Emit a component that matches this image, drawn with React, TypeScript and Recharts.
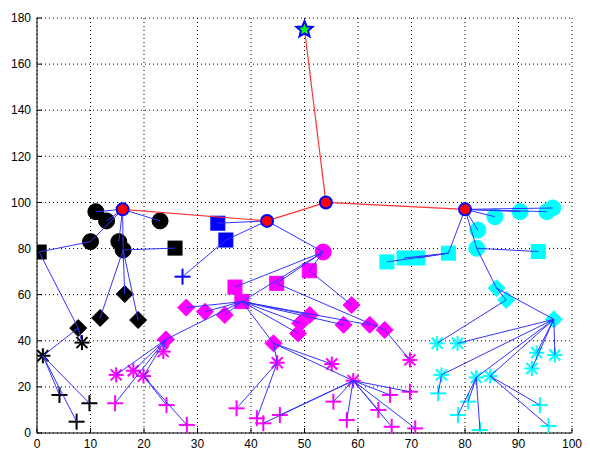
import { ScatterChart, Scatter, XAxis, YAxis, CartesianGrid } from 'recharts';

// node rows: [x, y, parentX, parentY]
type Row = number[];

const X_TICKS = [0, 10, 20, 30, 40, 50, 60, 70, 80, 90, 100];
const Y_TICKS = [0, 20, 40, 60, 80, 100, 120, 140, 160, 180];

const SINK = [[50, 175]];
const HEADS = [[16, 97], [43, 92], [54, 100], [80, 97]];
const RED_LINKS = [[16, 97, 43, 92], [43, 92, 54, 100], [54, 100, 80, 97], [54, 100, 50, 175]];

const blackCircles: Row[] = [[11, 96, 16, 97], [13, 92, 16, 97], [23, 92, 16, 97], [10, 83, 16, 97], [15.3, 83, 16, 97], [16.1, 79.4, 16, 97]];
const blackSquares: Row[] = [[0.4, 78.5, 10, 83], [25.8, 80.2, 16.1, 79.4]];
const blackDiamonds: Row[] = [[16.4, 60.3, 16.1, 79.4], [11.8, 49.9, 16.1, 79.4], [18.9, 49, 16.1, 79.4], [7.7, 45.5, 0.4, 78.5]];
const blackStars: Row[] = [[1.1, 33.5, 7.7, 45.5], [8.4, 39.2, 7.7, 45.5]];
const blackPlus: Row[] = [[4.2, 16.5, 1.1, 33.5], [9.8, 12.9, 1.1, 33.5], [7.4, 4.9, 1.1, 33.5]];

const blueSquares: Row[] = [[33.8, 91, 43, 92], [35.3, 83.7, 43, 92]];
const bluePlus: Row[] = [[27.2, 67.8, 35.3, 83.7]];

const magCircles: Row[] = [[53.5, 78.5, 43, 92]];
const magSquares: Row[] = [[37, 63.3, 53.5, 78.5], [38.3, 57, 53.5, 78.5], [44.8, 64.9, 53.5, 78.5], [50.9, 70.4, 53.5, 78.5]];
const magDiamonds: Row[] = [
  [27.9, 54.4, 38.3, 57], [31.4, 52.6, 38.3, 57], [35.1, 51.2, 38.3, 57], [51, 51.2, 38.3, 57],
  [49.2, 47.6, 38.3, 57], [48.8, 43.2, 38.3, 57], [57.3, 46.9, 38.3, 57], [62.2, 46.9, 38.3, 57],
  [44.2, 38.9, 38.3, 57], [24.1, 40.6, 38.3, 57], [58.8, 55.5, 50.9, 70.4], [65, 44.7, 44.8, 64.9],
];
const magStars: Row[] = [
  [14.8, 25.2, 24.1, 40.6], [18, 27, 24.1, 40.6], [19.9, 24.7, 24.1, 40.6], [23.6, 35.3, 24.1, 40.6],
  [44.9, 30.5, 44.2, 38.9], [55.1, 29.9, 44.2, 38.9], [59.1, 22.7, 44.2, 38.9], [69.7, 31.7, 65, 44.7],
];
const magPlus: Row[] = [
  [14.6, 12.9, 24.1, 40.6], [24.2, 12.1, 19.9, 24.7], [28, 3.5, 19.9, 24.7], [37.3, 10.7, 44.9, 30.5],
  [41.1, 6.4, 44.9, 30.5], [42.3, 4.2, 59.1, 22.7], [45.4, 7.8, 59.1, 22.7], [55.4, 13.6, 59.1, 22.7],
  [57.9, 5.6, 59.1, 22.7], [63.8, 10, 59.1, 22.7], [66, 16.5, 59.1, 22.7], [69.7, 17.9, 59.1, 22.7],
  [66.3, 2.7, 59.1, 22.7], [70.7, 2, 59.1, 22.7],
];

const cyanCircles: Row[] = [[85.6, 93.8, 80, 97], [90.3, 96, 80, 97], [95.3, 96, 80, 97], [96.4, 97.6, 80, 97], [82.4, 88, 80, 97], [82.2, 80.1, 80, 97]];
const cyanSquares: Row[] = [[93.7, 78.7, 82.2, 80.1], [76.9, 78, 80, 97], [71.2, 75.9, 76.9, 78], [68.6, 75.9, 76.9, 78], [65.4, 74.2, 76.9, 78]];
const cyanDiamonds: Row[] = [[85.9, 62.8, 82.2, 80.1], [87.7, 57.7, 85.9, 62.8], [96.6, 49.3, 85.9, 62.8]];
const cyanStars: Row[] = [
  [74.8, 38.9, 87.7, 57.7], [78.6, 38.9, 96.6, 49.3], [93.4, 34.8, 96.6, 49.3], [96.8, 33.8, 96.6, 49.3],
  [92.5, 28, 96.6, 49.3], [75.6, 25.2, 96.6, 49.3], [82.1, 24.1, 96.6, 49.3], [84.7, 24.7, 96.6, 49.3],
];
const cyanPlus: Row[] = [[75, 17.2, 75.6, 25.2], [80.6, 13.6, 82.1, 24.1], [78.7, 7.8, 82.1, 24.1], [82.8, 1.3, 82.1, 24.1], [94, 12.1, 84.7, 24.7], [95.6, 3, 84.7, 24.7]];

const GROUPS: { color: string; kind: string; rows: Row[] }[] = [
  { color: '#000000', kind: 'circle', rows: blackCircles },
  { color: '#000000', kind: 'square', rows: blackSquares },
  { color: '#000000', kind: 'diamond', rows: blackDiamonds },
  { color: '#000000', kind: 'star', rows: blackStars },
  { color: '#000000', kind: 'plus', rows: blackPlus },
  { color: '#0000ff', kind: 'square', rows: blueSquares },
  { color: '#0000ff', kind: 'plus', rows: bluePlus },
  { color: '#ff00ff', kind: 'circle', rows: magCircles },
  { color: '#ff00ff', kind: 'square', rows: magSquares },
  { color: '#ff00ff', kind: 'diamond', rows: magDiamonds },
  { color: '#ff00ff', kind: 'star', rows: magStars },
  { color: '#ff00ff', kind: 'plus', rows: magPlus },
  { color: '#00ffff', kind: 'circle', rows: cyanCircles },
  { color: '#00ffff', kind: 'square', rows: cyanSquares },
  { color: '#00ffff', kind: 'diamond', rows: cyanDiamonds },
  { color: '#00ffff', kind: 'star', rows: cyanStars },
  { color: '#00ffff', kind: 'plus', rows: cyanPlus },
];

const BLUE_LINKS = GROUPS.flatMap((g) => g.rows);

function marker(kind: string, color: string) {
  return (props: any) => {
    const { cx, cy } = props;
    if (cx == null || cy == null) return <g />;
    if (kind === 'circle') return <circle cx={cx} cy={cy} r={8} fill={color} stroke={color} />;
    if (kind === 'square') return <rect x={cx - 7} y={cy - 7} width={14} height={14} fill={color} stroke={color} />;
    if (kind === 'diamond') {
      const s = 8.5;
      return <polygon points={`${cx},${cy - s} ${cx + s},${cy} ${cx},${cy + s} ${cx - s},${cy}`} fill={color} stroke={color} />;
    }
    if (kind === 'plus') {
      const s = 8;
      return (
        <g stroke={color} strokeWidth={2}>
          <line x1={cx - s} y1={cy} x2={cx + s} y2={cy} />
          <line x1={cx} y1={cy - s} x2={cx} y2={cy + s} />
        </g>
      );
    }
    // asterisk
    const s = 7.5;
    const d = 5.5;
    return (
      <g stroke={color} strokeWidth={2}>
        <line x1={cx - s} y1={cy} x2={cx + s} y2={cy} />
        <line x1={cx} y1={cy - s} x2={cx} y2={cy + s} />
        <line x1={cx - d} y1={cy - d} x2={cx + d} y2={cy + d} />
        <line x1={cx - d} y1={cy + d} x2={cx + d} y2={cy - d} />
      </g>
    );
  };
}

const headShape = (props: any) => {
  const { cx, cy } = props;
  return <circle cx={cx} cy={cy} r={6} fill="#ff0000" stroke="#0000ff" strokeWidth={2} />;
};

const sinkShape = (props: any) => {
  const { cx, cy } = props;
  const pts: string[] = [];
  for (let i = 0; i < 10; i++) {
    const r = i % 2 === 0 ? 8.5 : 3.8;
    const a = -Math.PI / 2 + (i * Math.PI) / 5;
    pts.push(`${cx + r * Math.cos(a)},${cy + r * Math.sin(a)}`);
  }
  return <polygon points={pts.join(' ')} fill="#00ff00" stroke="#0000ff" strokeWidth={2} />;
};

const noShape = () => <g />;
const noTick = () => <g />;
const toPts = (rows: number[][]) => rows.map((r) => ({ x: r[0], y: r[1] }));

export default function App() {
  const tick = { fill: '#000', fontSize: 12, fontFamily: 'Liberation Sans, Arial, sans-serif' };
  return (
    <div style={{ position: 'absolute', left: 0, top: 0, background: '#fff' }}>
      <ScatterChart width={590} height={458} margin={{ top: 18, right: 18, bottom: 0, left: 0 }}>
        <CartesianGrid stroke="#000" strokeDasharray="1 3" />
        <XAxis type="number" dataKey="x" domain={[0, 100]} ticks={X_TICKS} height={25} tick={tick}
          axisLine={{ stroke: '#000' }} tickLine={{ stroke: '#000' }} tickSize={-5} tickMargin={11} allowDataOverflow />
        <XAxis xAxisId="top" orientation="top" type="number" dataKey="x" domain={[0, 100]} ticks={X_TICKS} height={0}
          tick={noTick} tickLine={{ stroke: '#000' }} tickSize={-5} axisLine={{ stroke: '#000' }} />
        <YAxis type="number" dataKey="y" domain={[0, 180]} ticks={Y_TICKS} width={37} tick={tick}
          axisLine={{ stroke: '#000' }} tickLine={{ stroke: '#000' }} tickSize={-5} tickMargin={11} allowDataOverflow />
        <YAxis yAxisId="right" orientation="right" type="number" dataKey="y" domain={[0, 180]} ticks={Y_TICKS} width={0}
          tick={noTick} tickLine={{ stroke: '#000' }} tickSize={-5} axisLine={{ stroke: '#000' }} />
        {GROUPS.map((g, i) => (
          <Scatter key={'g' + i} data={toPts(g.rows)} shape={marker(g.kind, g.color)} isAnimationActive={false} />
        ))}
        {BLUE_LINKS.map((r, i) => (
          <Scatter key={'b' + i} data={[{ x: r[0], y: r[1] }, { x: r[2], y: r[3] }]}
            line={{ stroke: '#3333ff', strokeWidth: 1 }} shape={noShape} isAnimationActive={false} />
        ))}
        {RED_LINKS.map((r, i) => (
          <Scatter key={'r' + i} data={[{ x: r[0], y: r[1] }, { x: r[2], y: r[3] }]}
            line={{ stroke: '#ff3333', strokeWidth: 1.2 }} shape={noShape} isAnimationActive={false} />
        ))}
        <Scatter data={toPts(HEADS)} shape={headShape} isAnimationActive={false} />
        <Scatter data={toPts(SINK)} shape={sinkShape} isAnimationActive={false} />
      </ScatterChart>
    </div>
  );
}
